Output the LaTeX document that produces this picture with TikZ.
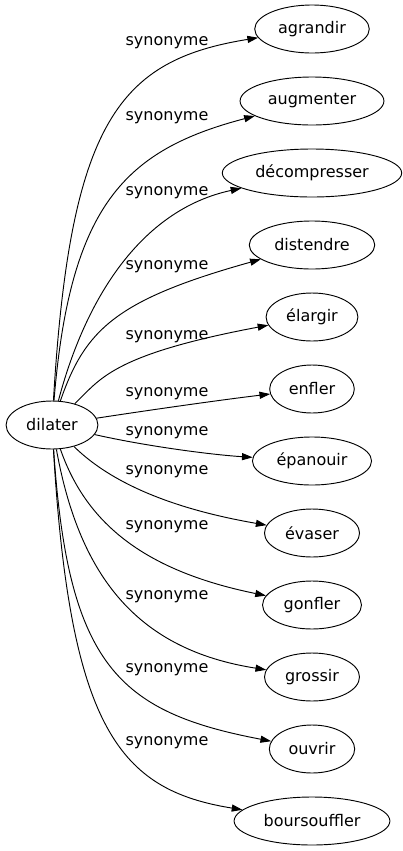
\documentclass[tikz,border=0pt]{standalone}
\usepackage{fontspec}
\setmainfont{DejaVu Sans}
\usepackage{tikz}
\usetikzlibrary{arrows.meta, positioning, shapes.geometric}

\begin{document}
\begin{tikzpicture}[
    x=0.75pt, y=-0.75pt,
    node distance=17.3pt and 0.5cm,
    word/.style={draw, ellipse, line width=0.7pt, minimum height=36pt, inner xsep=5pt, inner ysep=2pt, font=\fontsize{12}{14}\selectfont},
    lbl/.style={inner sep=0pt, font=\fontsize{12}{14}\selectfont},
    arrow/.style={-{Triangle[length=8pt, width=5.3pt]}, line width=0.7pt}
    ]
    \useasboundingbox (0,0) rectangle (403,851);

    % Nodes
    \node[word] (dil) at (52,425) {dilater};
    \node[word] (agr) at (312,29) {agrandir};
    \node[word] (aug) [below=of agr] {augmenter};
    \node[word] (dec) [below=of aug] {décompresser};
    \node[word] (dis) [below=of dec] {distendre};
    \node[word] (ela) [below=of dis] {élargir};
    \node[word] (enf) [below=of ela] {enfler};
    \node[word] (epa) [below=of enf] {épanouir};
    \node[word] (eva) [below=of epa] {évaser};
    \node[word] (gon) [below=of eva] {gonfler};
    \node[word] (gro) [below=of gon] {grossir};
    \node[word] (ouv) [below=of gro] {ouvrir};
    \node[word] (bou) [below=of ouv] {boursouffler};

    % Labels
    \node[lbl] (l_agr) at (167,43) {synonyme};
    \node[lbl] (l_aug) at (167,118) {synonyme};
    \node[lbl] (l_dec) at (167,193) {synonyme};
    \node[lbl] (l_dis) at (167,267) {synonyme};
    \node[lbl] (l_ela) at (167,337) {synonyme};
    \node[lbl] (l_enf) at (167,394) {synonyme};
    \node[lbl] (l_epa) at (167,433) {synonyme};
    \node[lbl] (l_eva) at (167,472) {synonyme};
    \node[lbl] (l_gon) at (167,527) {synonyme};
    \node[lbl] (l_gro) at (167,597) {synonyme};
    \node[lbl] (l_ouv) at (167,670) {synonyme};
    \node[lbl] (l_bou) at (167,743) {synonyme};

    % Arrows
    \draw[arrow] (dil) .. controls (70,120) and (120,60) .. (agr);
    \draw[arrow] (dil) .. controls (70,205) and (125,150) .. (aug);
    \draw[arrow] (dil) .. controls (85,300) and (140,210) .. (dec);
    \draw[arrow] (dil) .. controls (85,330) and (115,300) .. (dis);
    \draw[arrow] (dil) .. controls (100,380) and (110,355) .. (ela);
    \draw[arrow] (dil) .. controls (150,410) and (220,400) .. (enf);
    \draw[arrow] (dil) .. controls (150,447) and (215,455) .. (epa);
    \draw[arrow] (dil) .. controls (100,472) and (150,505) .. (eva);
    \draw[arrow] (dil) .. controls (85,520) and (140,570) .. (gon);
    \draw[arrow] (dil) .. controls (80,580) and (140,650) .. (gro);
    \draw[arrow] (dil) .. controls (68,665) and (118,712) .. (ouv);
    \draw[arrow] (dil) .. controls (70,730) and (120,790) .. (bou);
\end{tikzpicture}
\end{document}
